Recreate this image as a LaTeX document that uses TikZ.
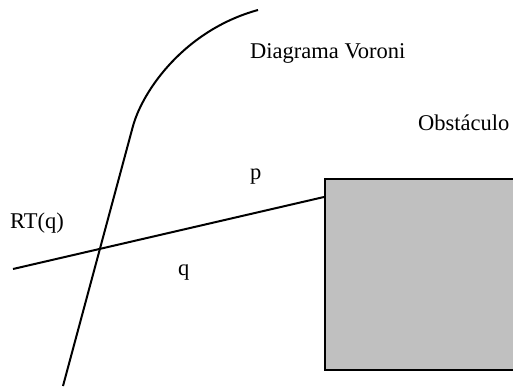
\documentclass[tikz,border=0pt]{standalone}
\usepackage{fontspec}
\setmainfont{Liberation Serif}
\usetikzlibrary{positioning}
\definecolor{ObstGray}{HTML}{C0C0C0}
\tikzset{
  % Labels
  LB/.style={anchor=base west,inner sep=0pt,font=\fontsize{22.5}{26}\selectfont},
  % Lines
  ln/.style={line width=2pt},
  % Obstacle box
  OB/.style={rectangle,draw,line width=2pt,fill=ObstGray,inner sep=0pt,
             anchor=north west,minimum width=210pt,minimum height=191pt}
}
\begin{document}
\begin{tikzpicture}[x=1pt,y=-1pt]
  \useasboundingbox (0,0) rectangle (513,387);
  \clip (0,0) rectangle (513,387);

  % --- Obstacle ---
  \node[OB] (obst) at (324,178) {};

  % --- Labels ---
  \node[LB] (diag) at (250,59)  {Diagrama Voroni};
  \node[LB] (obsl) at (418,131) {Obstáculo};
  \node[LB] (rtq)  at (10,228)  {RT(q)};
  \node[LB] (plbl) at (250,180) {p};
  \node[LB] (qlbl) at (178,275) {q};

  % --- Lines ---
  \coordinate (rtA)  at (13,269);
  \coordinate (rtB)  at (obst.west |- 0,197);
  \coordinate (vBot) at (63,386);
  \coordinate (vKnk) at (133,126);
  \coordinate (vTop) at (258,10);

  \draw[ln](rtA)--(rtB);
  \draw[ln](vBot)--(vKnk) .. controls (143,90) and (185,30) .. (vTop);
\end{tikzpicture}
\end{document}
